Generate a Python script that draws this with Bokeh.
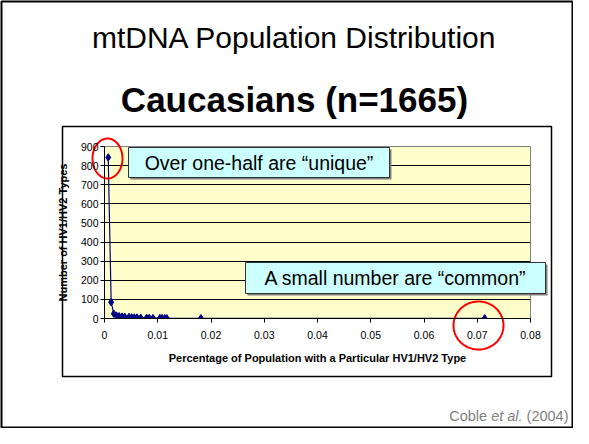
import numpy as np
from bokeh.plotting import figure
from bokeh.models import Range1d, FixedTicker, Label
from bokeh.embed import file_html
from bokeh.resources import INLINE

# ---- data ----
pct = [0.0007, 0.00125, 0.00175, 0.00225, 0.00275, 0.0033, 0.0038, 0.0046,
       0.0051, 0.0056, 0.0061, 0.0068, 0.0079, 0.0084, 0.0091, 0.0104,
       0.0108, 0.0113, 0.0117, 0.0181, 0.0714]
counts = [843, 85, 25, 15, 12, 10, 9, 8, 6, 5, 5, 4, 3, 3, 2, 2, 2, 1, 1, 1, 1]
x_ticks = [0, 0.01, 0.02, 0.03, 0.04, 0.05, 0.06, 0.07, 0.08]
x_tick_labels = ["0", "0.01", "0.02", "0.03", "0.04", "0.05", "0.06", "0.07", "0.08"]
y_ticks = [0, 100, 200, 300, 400, 500, 600, 700, 800, 900]

title_text = "mtDNA Population Distribution"
subtitle_text = "Caucasians (n=1665)"
x_label = "Percentage of Population with a Particular HV1/HV2 Type"
y_label = "Number of HV1/HV2 Types"
note_unique = "Over one-half are \u201cunique\u201d"
note_common = "A small number are \u201ccommon\u201d"

# ---- layout geometry (canvas pixels) ----
W, H = 573, 428
PX0, PX1 = 104, 530
PY0, PY1 = 146, 318
XMAX, YMAX = 0.08, 900
FONT = "Liberation Sans"


def dx(px):
    return (px - PX0) / (PX1 - PX0) * XMAX


def dy(py):
    return (PY1 - py) / (PY1 - PY0) * YMAX


p = figure(width=W, height=H, x_range=Range1d(0, XMAX), y_range=Range1d(0, YMAX),
           output_backend="svg", toolbar_location=None,
           min_border_left=PX0, min_border_right=W - PX1,
           min_border_top=PY0, min_border_bottom=H - PY1)
p.title.visible = False

p.background_fill_color = "#FFFFCC"
p.border_fill_color = "white"
p.outline_line_color = "#808080"
p.outline_line_width = 1
p.xgrid.visible = False
p.ygrid.grid_line_color = "black"
p.ygrid.grid_line_width = 1

p.xaxis.ticker = FixedTicker(ticks=x_ticks)
p.xaxis.major_label_overrides = dict(zip(x_ticks, x_tick_labels))
p.yaxis.ticker = FixedTicker(ticks=y_ticks)
p.xaxis.axis_label = x_label
p.yaxis.axis_label = y_label
for ax in (p.xaxis[0], p.yaxis[0]):
    ax.axis_line_color = "black"
    ax.axis_line_width = 1
    ax.major_tick_line_color = "black"
    ax.major_tick_out = 4
    ax.major_tick_in = 0
    ax.minor_tick_line_color = None
    ax.major_label_text_font = FONT
    ax.major_label_text_font_size = "10.5px"
    ax.major_label_text_color = "black"
    ax.axis_label_text_font = FONT
    ax.axis_label_text_font_size = "11px"
    ax.axis_label_text_font_style = "bold"
    ax.axis_label_text_color = "black"
p.xaxis.major_label_standoff = 8
p.yaxis.major_label_standoff = 2
p.xaxis.axis_label_standoff = 10
p.yaxis.axis_label_standoff = 9

# ---- data series ----
p.line(pct, counts, line_color="#000080", line_width=1.2)
p.scatter(pct, counts, marker="diamond", size=7.5, fill_color="#000080", line_color="#000080")


# ---- decorations: shapes as glyphs at the "guide" level ----
def rect_shape(l, t, r, b, fill=None, line=None, lw=1.0):
    p.quad(left=[dx(l)], right=[dx(r)], top=[dy(t)], bottom=[dy(b)],
           fill_color=fill or "white", fill_alpha=1 if fill else 0,
           line_color=line or "black", line_alpha=1 if line else 0, line_width=lw,
           level="guide")


def ellipse_shape(cx, cy, rx, ry, color="#FF0000", lw=2):
    t = np.linspace(0, 2 * np.pi, 90)
    p.patches(xs=[[dx(v) for v in cx + rx * np.cos(t)]],
              ys=[[dy(v) for v in cy + ry * np.sin(t)]],
              fill_alpha=0, line_color=color, line_width=lw, level="guide")


rect_shape(1, 1, W - 1, H - 1, line="black", lw=2)          # slide border
rect_shape(62, 126, 551, 376, line="black", lw=1.5)          # chart box
rect_shape(130, 149, 391, 179, fill="#808080")               # note 1 shadow
rect_shape(128, 147, 389, 177, fill="#CCFFFF", line="#333333")
rect_shape(247, 264, 547, 295, fill="#808080")               # note 2 shadow
rect_shape(245, 262, 545, 293, fill="#CCFFFF", line="#333333")
ellipse_shape(107, 158, 15, 20)
ellipse_shape(478, 325, 25, 24)


# ---- texts: labels in side panels (not clipped to the plot frame) ----
def text(panel, x, y, s, size, align="center", style="normal", color="black"):
    p.add_layout(Label(x=x, y=y, x_units="canvas", y_units="canvas", text=s,
                       text_align=align, text_baseline="middle", text_font=FONT,
                       text_font_size=size, text_font_style=style, text_color=color), panel)


text("above", 294, 37, title_text, "30px")
text("above", 294, 99, subtitle_text, "35px", style="bold")
text("above", 258.5, 162, note_unique, "19.5px")
text("below", 395, 277.5, note_common, "19.5px")

# footer "Coble et al. (2004)"
fs = 14.5
x_end = W - 5
w1, w2, w3 = 2.890 * fs, 2.168 * fs, 3.168 * fs
x_start = x_end - (w1 + w2 + w3)
fy = H - 13
text("left", x_start, fy, "Coble\u00a0", f"{fs}px", align="left", color="#808080")
text("right", x_start + w1, fy, "et al.", f"{fs}px", align="left", style="italic", color="#808080")
text("below", x_start + w1 + w2, fy, "\u00a0(2004)", f"{fs}px", align="left", color="#808080")

open("out.html", "w").write(file_html(p, INLINE))
